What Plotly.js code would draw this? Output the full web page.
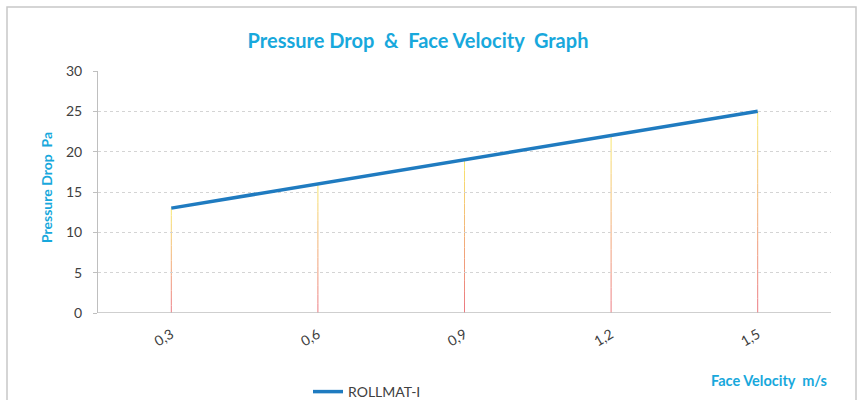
<!DOCTYPE html>
<html>
<head>
<meta charset="utf-8">
<script src="https://cdn.plot.ly/plotly-3.0.1.min.js"></script>
<style>html,body{margin:0;padding:0;background:#fff;}#chart{width:868px;height:400px;}</style>
</head>
<body>
<div id="chart"></div>
<script>
const categories = ["0,3", "0,6", "0,9", "1,2", "1,5"];
const pressureDrop = [13, 16, 19, 22, 25];
const seriesName = "ROLLMAT-I";
const yTicks = [0, 5, 10, 15, 20, 25, 30];

const cyan = "#18a8dc";
const W = 868, H = 400, L = 98, R = 831, T = 71, B = 313;
const px2x = p => (p - L) / (R - L);
const py2y = p => (B - p) / (B - T);

function mix(a, b, t) {
  return "rgb(" + a.map((v, i) => Math.round(v + (b[i] - v) * t)).join(",") + ")";
}
const bottomCol = [236, 120, 130], topCol = [248, 232, 110];
const shapes = [];
const N = 14;
categories.forEach((c, i) => {
  const v = pressureDrop[i];
  for (let k = 0; k < N; k++) {
    shapes.push({
      type: "line", xref: "x", yref: "y",
      x0: i, x1: i, y0: v * k / N, y1: v * (k + 1) / N,
      line: { color: mix(bottomCol, topCol, (k + 0.5) / N), width: 1 },
      layer: "below"
    });
  }
});
shapes.push({
  type: "rect", xref: "paper", yref: "paper",
  x0: px2x(7), x1: px2x(856), y0: py2y(410), y1: py2y(7),
  line: { color: "#c8c8c8", width: 1.5 }, layer: "below"
});
shapes.push({
  type: "line", xref: "paper", yref: "y", x0: 0, x1: 1, y0: 0, y1: 0,
  line: { color: "#bfbfbf", width: 1.5 }
});

const trace = {
  x: categories, y: pressureDrop, type: "scatter", mode: "lines",
  name: seriesName, line: { color: "#1f7bc0", width: 3.5 }
};

const layout = {
  width: W, height: H,
  margin: { l: L, r: W - R, t: T, b: H - B, autoexpand: false },
  paper_bgcolor: "#fff", plot_bgcolor: "#fff",
  font: { family: "Lato, 'Open Sans', sans-serif", color: "#404040", size: 13 },
  title: {
    text: "<b>Pressure Drop  &  Face Velocity  Graph</b>",
    font: { family: "Lato, sans-serif", size: 20, color: cyan },
    xref: "paper", x: px2x(418), xanchor: "center",
    yref: "container", y: 1 - 41 / H, yanchor: "middle"
  },
  xaxis: {
    type: "category", range: [-0.5, 4.5], showgrid: false, zeroline: false,
    showline: false, ticks: "", tickangle: -30,
    tickfont: { size: 14, color: "#404040" }, ticklabelstandoff: 10,
    fixedrange: true
  },
  yaxis: {
    range: [0, 30], tickvals: yTicks, ticktext: yTicks.map(String),
    showgrid: true, gridcolor: "#d4d4d4", griddash: "dot", gridwidth: 1,
    zeroline: false, showline: true, linecolor: "#bfbfbf", linewidth: 1,
    ticks: "outside", ticklen: 4, tickcolor: "#bfbfbf",
    tickfont: { size: 14, color: "#404040" }, ticklabelstandoff: 8,
    fixedrange: true
  },
  shapes: shapes,
  showlegend: true,
  legend: {
    orientation: "h", x: px2x(308), xanchor: "left", y: py2y(392), yanchor: "middle",
    font: { size: 14, color: "#404040" }, bgcolor: "rgba(0,0,0,0)"
  },
  annotations: [
    {
      text: "<b>Pressure Drop  Pa</b>", xref: "paper", yref: "paper",
      x: px2x(36), y: py2y(130), textangle: -90, showarrow: false,
      font: { size: 14, color: cyan }
    },
    {
      text: "<b>Face Velocity  m/s</b>", xref: "paper", yref: "paper",
      x: px2x(829), xanchor: "right", y: py2y(380), yanchor: "middle", showarrow: false,
      font: { size: 14.5, color: cyan }
    }
  ]
};

Plotly.newPlot("chart", [trace], layout, { displayModeBar: false, staticPlot: true });
</script>
</body>
</html>
